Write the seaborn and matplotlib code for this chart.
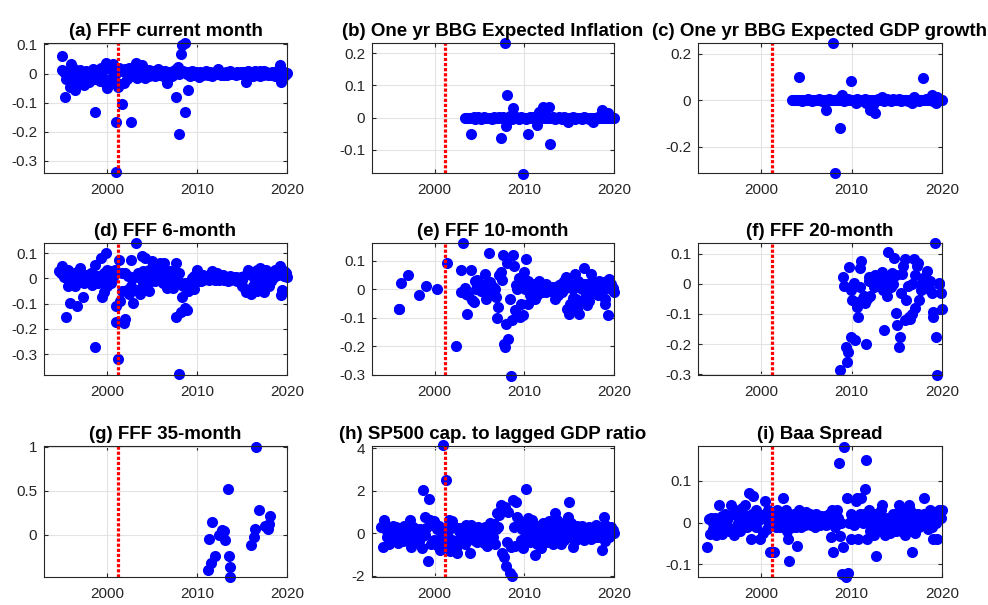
import numpy as np
import pandas as pd
import matplotlib
matplotlib.use("Agg")
import matplotlib.pyplot as plt
import seaborn as sns

N = np.nan

# event calendar: 8 meetings per year, 1994-2019
meeting_months = [1, 3, 5, 6, 8, 9, 11, 12]
years = list(range(1994, 2020))
dates = [y + (m - 0.5) / 12 for y in years for m in meeting_months]

# (a) FFF current month, from 1994
fff_cur = [
    N, N, N, N, N, N, N, 0.059,
    0.011, 0.005, -0.08, -0.02, 0.01, -0.01, -0.045, 0.034,
    -0.01, 0.02, -0.03, -0.057, 0.01, -0.02, 0.005, -0.035,
    0.012, -0.025, 0.0, -0.04, -0.015, 0.01, -0.02, 0.005,
    -0.03, 0.01, -0.01, 0.015, -0.02, -0.133, 0.012, -0.01,
    0.0, -0.025, 0.02, -0.01, -0.03, 0.015, 0.037, -0.051,
    0.02, -0.03, 0.015, -0.02, 0.01, 0.034, -0.005, -0.339,
    -0.165, -0.048, 0.02, -0.035, 0.01, -0.105, -0.032, 0.015,
    0.01, -0.02, 0.005, 0.02, -0.01, -0.165, 0.02, -0.01,
    0.0, 0.037, -0.015, 0.02, 0.005, -0.01, 0.03, 0.0,
    0.01, -0.015, 0.005, 0.0, 0.012, -0.008, 0.01, 0.0,
    0.0, 0.01, -0.01, 0.005, 0.015, -0.005, 0.0, 0.008,
    0.005, -0.01, 0.0, 0.01, -0.034, 0.005, 0.0, 0.005,
    0.0, -0.01, 0.01, 0.005, -0.08, 0.015, 0.023, 0.0,
    -0.207, 0.068, 0.097, 0.01, 0.105, -0.131, 0.0, -0.057,
    0.005, -0.01, 0.0, 0.008, -0.005, 0.0, 0.004, -0.003,
    0.0, -0.011, 0.005, 0.0, -0.005, 0.003, 0.0, 0.004,
    0.008, -0.005, 0.0, 0.005, -0.008, 0.0, 0.003, 0.0,
    0.005, 0.0, 0.017, 0.0, -0.005, 0.003, 0.0, -0.004,
    0.0, 0.005, -0.005, 0.0, 0.008, -0.003, 0.0, 0.003,
    0.003, 0.0, -0.005, 0.005, 0.0, -0.003, 0.004, 0.0,
    0.0, 0.005, 0.0, -0.028, 0.008, -0.005, 0.0, 0.004,
    0.005, -0.01, 0.0, 0.01, -0.005, 0.0, 0.005, -0.008,
    0.01, 0.0, -0.005, 0.008, 0.0, 0.005, -0.004, 0.0,
    0.0, -0.005, 0.005, 0.0, -0.008, 0.003, 0.01, 0.0,
    0.005, 0.028, -0.028, 0.01, -0.01, 0.005, 0.0, 0.002,
]

# (b) one yr BBG expected inflation, from 2003
bbg_infl = [
    N, N, 0.0, 0.0, 0.0, 0.0, 0.0, 0.0,
    -0.052, 0.0, 0.002, -0.003, 0.0, 0.0, 0.002, 0.0,
    0.0, -0.003, 0.0, 0.002, 0.0, 0.0, -0.002, 0.0,
    0.0, 0.0, -0.003, 0.0, 0.002, 0.0, 0.0, 0.0,
    0.0, 0.003, -0.063, 0.0, 0.003, 0.0, 0.232, -0.025,
    0.071, 0.0, 0.005, 0.0, -0.005, 0.029, 0.0, 0.003,
    0.003, 0.0, -0.005, 0.0, 0.002, 0.0, -0.174, 0.0,
    0.0, -0.005, 0.0, -0.052, 0.003, 0.0, 0.0, 0.002,
    0.0, 0.0, -0.023, 0.005, 0.019, 0.0, 0.01, 0.0,
    0.032, 0.0, 0.005, 0.0, 0.0, 0.032, -0.082, 0.0,
    0.0, 0.003, 0.0, -0.003, 0.0, 0.0, 0.002, 0.0,
    0.0, -0.003, 0.0, 0.002, 0.0, 0.0, -0.012, 0.0,
    0.0, 0.0, 0.002, 0.0, -0.003, 0.0, 0.0, 0.0,
    0.0, 0.0, -0.003, 0.0, 0.0, 0.002, 0.0, 0.0,
    0.0, -0.003, 0.0, 0.0, 0.0, -0.012, 0.0, 0.0,
    0.0, 0.003, 0.0, 0.0, 0.024, 0.0, 0.0, 0.0,
    0.005, 0.0, 0.014, 0.0, 0.003, 0.0, 0.0, 0.0,
]

# (c) one yr BBG expected GDP growth, from 2003
bbg_gdp = [
    N, N, 0.0, 0.0, 0.0, 0.0, 0.0, 0.0,
    0.0, 0.1, 0.0, -0.003, 0.0, 0.0, 0.0, 0.0,
    0.0, 0.003, 0.0, 0.0, -0.003, 0.0, 0.0, 0.0,
    0.0, 0.0, 0.003, 0.0, 0.0, -0.003, 0.0, 0.0,
    0.0, -0.043, 0.0, 0.003, 0.0, 0.0, 0.0, 0.243,
    0.0, -0.314, 0.0, 0.005, 0.0, -0.121, 0.0, 0.021,
    0.0, -0.005, 0.003, 0.0, 0.005, 0.0, 0.0, 0.083,
    0.0, 0.0, 0.0, -0.014, 0.003, 0.0, 0.0, 0.0,
    0.0, -0.005, 0.0, 0.003, -0.01, 0.0, 0.0, 0.0,
    -0.043, 0.0, -0.02, 0.0, -0.053, 0.0, 0.005, 0.0,
    0.0, 0.0, 0.014, 0.0, -0.003, 0.0, 0.003, 0.0,
    0.0, 0.0, -0.003, 0.0, 0.003, 0.0, 0.0, 0.0,
    0.0, 0.003, 0.0, -0.005, 0.0, 0.0, 0.0, 0.0,
    0.0, -0.003, 0.0, 0.0, -0.014, 0.0, 0.014, 0.0,
    0.003, 0.0, 0.0, -0.003, 0.0, 0.0, 0.093, 0.0,
    0.0, 0.003, 0.0, 0.0, 0.0, 0.0, 0.021, -0.003,
    0.0, 0.0, -0.014, 0.014, 0.0, 0.005, 0.0, 0.0,
]

# (d) FFF 6-month, from 1994
fff_6m = [
    N, N, N, N, N, 0.028, 0.021, 0.035,
    0.048, 0.005, 0.02, -0.151, 0.035, -0.029, -0.098, 0.01,
    0.02, -0.01, 0.0, -0.03, -0.109, 0.025, -0.015, 0.01,
    0.041, 0.01, -0.072, -0.02, 0.005, 0.015, -0.01, 0.0,
    -0.01, 0.02, -0.025, 0.0, 0.054, -0.27, 0.01, -0.02,
    0.01, -0.005, 0.081, -0.072, -0.052, 0.02, 0.1, -0.03,
    0.034, 0.01, 0.03, -0.02, 0.005, 0.02, 0.035, -0.111,
    -0.171, -0.317, 0.071, -0.09, -0.05, 0.02, -0.178, -0.16,
    0.021, -0.045, 0.01, -0.06, -0.03, 0.074, -0.098, 0.005,
    0.005, 0.14, -0.045, 0.02, -0.06, 0.0, 0.09, -0.02,
    0.03, 0.081, -0.045, 0.01, -0.05, 0.035, -0.01, 0.0,
    0.068, 0.02, -0.01, 0.04, 0.01, 0.03, 0.061, 0.05,
    0.03, -0.02, 0.06, 0.025, -0.038, 0.01, 0.0, 0.03,
    -0.02, 0.02, -0.038, 0.0, -0.151, 0.061, -0.01, 0.02,
    -0.38, -0.131, -0.072, -0.03, -0.02, -0.118, -0.125, -0.05,
    -0.05, -0.038, -0.02, 0.0, -0.04, 0.01, -0.01, 0.02,
    0.034, -0.01, 0.005, -0.01, 0.015, -0.005, 0.0, 0.01,
    0.0, 0.01, -0.005, 0.005, 0.028, 0.005, 0.0, -0.005,
    0.01, 0.02, 0.0, -0.005, 0.01, 0.0, 0.015, 0.0,
    -0.005, 0.005, 0.0, -0.01, 0.01, -0.005, 0.0, 0.005,
    0.0, -0.005, 0.005, -0.01, 0.0, -0.01, 0.005, -0.005,
    -0.03, 0.01, -0.04, -0.052, 0.034, -0.045, 0.02, -0.06,
    -0.058, -0.03, 0.0, 0.01, 0.034, -0.05, 0.02, 0.03,
    0.041, -0.02, 0.03, -0.052, 0.01, 0.035, 0.0, -0.03,
    0.02, -0.01, 0.025, 0.0, 0.01, 0.035, 0.028, 0.015,
    0.03, 0.048, -0.065, -0.045, 0.03, 0.01, 0.02, 0.005,
]

# (e) FFF 10-month, from 1995
fff_10m = [
    N, N, N, N, N, N, N, -0.067,
    -0.067, 0.021, N, N, N, N, N, N,
    0.051, N, N, N, N, N, N, N,
    N, -0.02, N, N, N, N, N, N,
    0.012, N, N, N, N, N, N, N,
    N, 0.001, N, N, N, N, N, N,
    N, N, 0.092, N, N, N, N, N,
    N, N, -0.199, N, N, N, -0.008, 0.07,
    N, 0.162, 0.005, -0.015, -0.085, -0.02, N, N,
    0.07, -0.038, -0.045, 0.03, 0.0, 0.033, 0.03, 0.02,
    0.02, -0.005, 0.0, 0.015, 0.056, -0.032, 0.015, 0.0,
    0.129, 0.025, 0.0, 0.01, -0.02, 0.0, -0.026, -0.1,
    -0.061, 0.05, 0.062, 0.033, 0.121, -0.19, -0.202, -0.12,
    0.092, -0.173, -0.032, -0.302, -0.108, 0.121, 0.082, -0.071,
    0.015, 0.0, 0.039, -0.096, -0.05, 0.02, -0.09, 0.062,
    0.0, 0.106, -0.05, 0.03, -0.02, 0.0, -0.01, 0.02,
    0.0, -0.032, 0.01, -0.02, 0.03, 0.0, 0.005, -0.01,
    0.015, 0.0, 0.02, -0.01, 0.005, 0.01, 0.0, -0.005,
    0.0, 0.01, -0.01, -0.032, 0.005, -0.02, 0.015, 0.0,
    0.02, -0.01, 0.03, 0.0, 0.045, -0.067, 0.01, -0.085,
    -0.05, 0.02, -0.03, 0.0, 0.056, -0.032, -0.07, 0.03,
    -0.085, 0.01, -0.04, 0.0, 0.02, 0.074, -0.02, -0.055,
    0.02, -0.04, 0.01, 0.056, -0.01, 0.03, 0.0, 0.02,
    0.01, -0.02, 0.03, 0.0, -0.01, 0.02, 0.025, -0.032,
    -0.05, 0.03, -0.091, 0.035, 0.0, 0.02, 0.004, -0.01,
]

# (f) FFF 20-month, from 2008
fff_20m = [
    N, N, N, N, N, -0.284, N, N,
    0.022, -0.009, -0.209, -0.259, -0.226, 0.056, -0.02, -0.176,
    -0.053, 0.004, -0.187, -0.06, -0.076, -0.109, -0.011, 0.052,
    0.074, -0.048, -0.04, -0.065, -0.198, -0.05, 0.024, 0.01,
    -0.042, 0.01, 0.02, -0.01, 0.03, 0.0, 0.015, 0.025,
    0.0, 0.03, 0.038, -0.02, -0.153, 0.01, 0.02, -0.042,
    0.104, 0.02, -0.01, 0.035, 0.0, 0.086, -0.098, 0.03,
    -0.137, -0.209, -0.176, -0.031, 0.033, 0.058, 0.082, -0.12,
    -0.053, -0.009, -0.109, -0.115, 0.0, -0.1, 0.082, 0.03,
    -0.081, 0.058, 0.069, -0.053, 0.0, -0.02, 0.02, -0.01,
    0.02, 0.005, 0.041, 0.0, -0.02, 0.01, -0.031, -0.092,
    -0.109, 0.136, -0.176, -0.303, 0.0, 0.002, -0.03, -0.084,
]

# (g) FFF 35-month, sparse
fff_35m_x = [2011.19, 2011.3, 2011.5, 2011.67, 2012.04, 2012.4, 2012.78, 2012.95,
             2013.15, 2013.4, 2013.5, 2013.7, 2013.63, 2016.0, 2016.3, 2016.48,
             2016.6, 2016.85, 2017.6, 2017.9, 2018.15, 2018.05]
fff_35m_y = [-0.40, -0.056, -0.33, 0.143, -0.24, 0.0, 0.049, 0.04,
             -0.064, 0.52, -0.244, -0.37, -0.485, -0.12, -0.034, 0.068,
             1.0, 0.274, 0.094, 0.068, 0.207, 0.117]

# (h) SP500 cap. to lagged GDP ratio, from 1994
sp500 = [
    0.3, -0.63, 0.6, 0.45, -0.2, 0.1, -0.5, -0.4,
    0.2, -0.3, 0.35, 0.1, -0.15, 0.3, -0.45, 0.05,
    0.25, -0.2, 0.1, -0.35, 0.35, -0.1, 0.0, 0.2,
    -0.3, 0.6, -0.65, 0.15, 0.3, -0.4, 0.2, -0.2,
    0.1, -0.35, 0.2, -0.2, -0.7, 2.03, 0.78, -0.1,
    0.25, -1.33, 1.6, 0.63, -0.5, 0.4, -0.3, 0.55,
    -0.4, 0.2, -0.6, 0.35, -0.8, 0.0, -0.3, 4.14,
    0.2, 2.5, -0.5, 0.1, 0.63, -0.86, 0.55, -0.3,
    0.3, -0.5, -0.7, -0.94, 0.23, 0.1, -0.2, 0.25,
    -0.3, 0.15, -0.5, 0.4, 0.1, -0.2, 0.25, -0.94,
    0.39, 0.1, -0.3, 0.2, 0.05, -0.4, 0.3, -0.1,
    0.2, -0.25, 0.15, -0.45, 0.3, 0.0, -0.6, 0.25,
    -0.3, 0.5, 0.1, -0.2, 0.45, -0.5, 0.2, 0.94,
    0.3, 0.85, 1.33, -0.94, 1.1, -1.1, 1.22, -1.56,
    -0.4, 1.0, -1.88, -0.63, -2.03, 1.56, 0.3, -0.6,
    1.48, 0.78, -0.55, 0.5, -0.3, 0.2, -0.7, 0.4,
    -0.2, 2.06, 0.1, 0.7, -0.4, 0.3, 0.6, -0.1,
    0.2, -1.02, -0.5, 0.35, -0.2, 0.1, -0.7, 0.4,
    0.47, -0.3, 0.2, 0.0, -0.4, 0.55, 0.1, -0.2,
    0.3, -0.5, 0.2, 0.94, 0.63, -0.3, 0.1, 0.4,
    -0.5, 0.2, -0.3, 0.5, 0.35, -0.1, 0.78, 1.48,
    -0.2, 0.5, 0.2, -0.63, 0.1, -0.3, 0.35, 0.0,
    0.3, -0.2, 0.1, 0.35, -0.3, 0.2, 0.0, 0.25,
    -0.1, 0.3, 0.0, -0.25, 0.2, 0.15, -0.2, 0.39,
    0.1, -0.2, 0.3, 0.0, 0.2, -0.81, 0.78, 0.4,
    -0.39, 0.2, 0.1, -0.2, 0.3, 0.05, 0.15, 0.0,
]

# (i) Baa spread, from 1994
baa = [
    -0.059, 0.008, -0.028, 0.012, -0.015, 0.0, 0.01, -0.03,
    0.005, -0.02, 0.042, -0.01, 0.015, -0.028, 0.0, 0.02,
    -0.01, 0.005, -0.02, 0.015, 0.042, -0.015, 0.02, -0.03,
    0.03, -0.01, 0.0, 0.02, -0.02, 0.01, 0.035, -0.005,
    0.0, 0.042, -0.01, 0.015, 0.071, 0.01, -0.039, 0.02,
    0.063, 0.0, 0.031, -0.01, 0.02, 0.005, -0.039, 0.015,
    0.01, -0.024, 0.02, 0.051, -0.015, 0.03, 0.0, -0.071,
    0.01, 0.005, -0.071, 0.02, -0.01, 0.03, 0.015, 0.0,
    -0.01, 0.02, 0.059, 0.005, -0.005, 0.03, -0.02, -0.039,
    -0.091, 0.0, 0.015, -0.01, 0.02, 0.005, -0.01, -0.055,
    0.01, 0.031, -0.01, 0.02, 0.0, 0.015, -0.005, 0.025,
    0.01, 0.0, 0.02, -0.005, 0.015, 0.0, 0.01, -0.01,
    0.02, 0.0, 0.01, -0.005, 0.015, 0.01, 0.0, 0.005,
    0.015, -0.005, 0.01, 0.02, 0.0, -0.035, 0.03, -0.071,
    0.02, -0.01, 0.03, 0.01, 0.142, -0.031, 0.0, -0.122,
    -0.059, 0.181, -0.13, 0.059, -0.12, 0.0, -0.039, 0.02,
    0.01, -0.005, 0.0, 0.051, 0.059, -0.039, 0.02, 0.01,
    0.059, 0.0, 0.02, 0.081, 0.15, -0.039, 0.031, 0.0,
    -0.02, 0.01, 0.0, -0.03, 0.02, -0.079, 0.005, -0.01,
    0.0, 0.031, 0.042, -0.02, 0.01, -0.03, 0.0, -0.015,
    0.01, -0.025, 0.0, -0.015, 0.02, 0.005, -0.02, 0.01,
    -0.01, 0.043, 0.03, -0.02, 0.0, 0.015, -0.03, 0.01,
    0.02, -0.01, 0.041, 0.03, -0.071, 0.0, -0.02, 0.02,
    -0.025, 0.01, 0.02, -0.01, 0.0, 0.015, 0.005, 0.02,
    0.059, 0.0, 0.02, -0.015, 0.03, 0.01, -0.01, 0.02,
    -0.039, 0.01, 0.0, -0.039, 0.02, 0.031, 0.01, 0.03,
]

titles = ["(a) FFF current month", "(b) One yr BBG Expected Inflation",
          "(c) One yr BBG Expected GDP growth", "(d) FFF 6-month",
          "(e) FFF 10-month", "(f) FFF 20-month", "(g) FFF 35-month",
          "(h) SP500 cap. to lagged GDP ratio", "(i) Baa Spread"]
x_ticks = [2000, 2010, 2020]
break_date = 2001.2


def series(values, start):
    i0 = (start - 1994) * 8
    return pd.DataFrame({"date": dates[i0:i0 + len(values)], "value": values}).dropna()


frames = [series(fff_cur, 1994), series(bbg_infl, 2003), series(bbg_gdp, 2003),
          series(fff_6m, 1994), series(fff_10m, 1995), series(fff_20m, 2008),
          pd.DataFrame({"date": fff_35m_x, "value": fff_35m_y}),
          series(sp500, 1994), series(baa, 1994)]

y_ticks = [[-0.3, -0.2, -0.1, 0, 0.1], [-0.1, 0, 0.1, 0.2], [-0.2, 0, 0.2],
           [-0.3, -0.2, -0.1, 0, 0.1], [-0.3, -0.2, -0.1, 0, 0.1],
           [-0.3, -0.2, -0.1, 0, 0.1], [0, 0.5, 1], [-2, 0, 2, 4], [-0.1, 0, 0.1]]
y_lims = [(-0.342, 0.105), (-0.172, 0.232), (-0.312, 0.245), (-0.382, 0.14),
          (-0.30, 0.163), (-0.302, 0.135), (-0.485, 1.01), (-2.06, 4.1),
          (-0.13, 0.183)]

sns.set_style("ticks")
plt.rcParams["font.family"] = ["Liberation Sans", "DejaVu Sans"]
plt.rcParams["axes.unicode_minus"] = False

fig = plt.figure(figsize=(9.88, 6.05), dpi=100)
W, H = 988, 605
col_lr = [(44, 287), (372, 614), (698, 942)]
row_tb = [(43, 173), (243, 375), (446, 577)]

for k in range(9):
    r, c = divmod(k, 3)
    l, rr = col_lr[c]
    t, b = row_tb[r]
    ax = fig.add_axes([l / W, 1 - b / H, (rr - l) / W, (b - t) / H])
    ax.grid(True, color="#e3e3e3", lw=0.8, zorder=0)
    ax.set_axisbelow(True)
    sns.scatterplot(data=frames[k], x="date", y="value", ax=ax, color=(0, 0, 1),
                    s=64, linewidth=0, zorder=2, clip_on=False, legend=False)
    ax.axvline(break_date, color="red", lw=2.3, ls=(0, (1, 0.6)), zorder=3)
    ax.set_xlim(1993, 2020)
    ax.set_ylim(*y_lims[k])
    ax.set_xticks(x_ticks)
    ax.set_yticks(y_ticks[k])
    ax.set_yticklabels([f"{v:g}" for v in y_ticks[k]])
    ax.set_xlabel("")
    ax.set_ylabel("")
    ax.tick_params(direction="in", length=3, width=0.8, labelsize=11,
                   colors="#262626", top=True, right=True)
    ax.tick_params(axis="x", pad=7)
    ax.tick_params(axis="y", pad=5)
    for sp in ax.spines.values():
        sp.set_color("#262626")
        sp.set_linewidth(0.8)
        sp.set_zorder(4)
    ax.set_title(titles[k], fontsize=13.5, fontweight="bold", color="black", pad=5)

fig.savefig("out.png", dpi=100)
